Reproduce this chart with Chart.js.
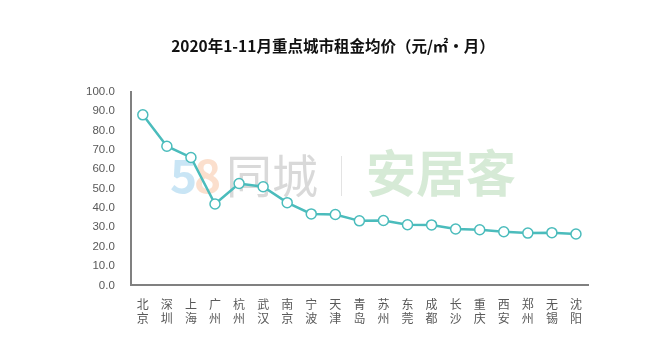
<!DOCTYPE html>
<html>
<head>
<meta charset="utf-8">
<script src="https://cdn.jsdelivr.net/npm/chart.js@4/dist/chart.umd.min.js"></script>
<style>
  html, body { margin: 0; padding: 0; background: #fff; }
  #myCanvas { display: block; }
</style>
</head>
<body>
<canvas id="myCanvas" width="664" height="354"></canvas>
<script>
// cities (two characters each, stacked)
const cities = ['北京', '深圳', '上海', '广州', '杭州', '武汉', '南京', '宁波', '天津', '青岛',
                '苏州', '东莞', '成都', '长沙', '重庆', '西安', '郑州', '无锡', '沈阳'];
// average rent, yuan per square metre per month
const rent = [88.0, 71.8, 66.0, 42.0, 52.6, 50.9, 42.7, 36.9, 36.6, 33.3,
              33.5, 31.3, 31.2, 29.1, 28.7, 27.7, 27.0, 27.2, 26.5];
const yTicks = [0, 10, 20, 30, 40, 50, 60, 70, 80, 90, 100];

const titleText = '2020年1-11月重点城市租金均价（元/㎡•月）';

// faint logo watermark behind the line
const watermark = {
    id: 'watermark',
    beforeDatasetsDraw(chart) {
        const c = chart.ctx;
        c.save();
        c.textBaseline = 'middle';
        c.font = 'bold 46px "Noto Sans CJK SC", sans-serif';
        c.fillStyle = 'rgba(120,190,230,0.4)';
        c.fillText('5', 170, 176);
        c.fillStyle = 'rgba(245,175,130,0.4)';
        c.fillText('8', 194, 176);
        c.font = '46px "Noto Sans CJK SC", sans-serif';
        c.fillStyle = 'rgba(170,170,170,0.45)';
        c.fillText('同城', 226, 176);
        c.fillStyle = 'rgba(200,200,200,0.5)';
        c.fillRect(341, 156, 1, 40);
        c.font = 'bold 50px "Noto Sans CJK SC", sans-serif';
        c.fillStyle = 'rgba(165,208,165,0.45)';
        c.fillText('安居客', 366, 173);
        c.restore();
    }
};

document.addEventListener('DOMContentLoaded', () => {
    const ctx = document.getElementById('myCanvas').getContext('2d');

    const data = {
        labels: cities.map(c => c.split('')),
        datasets: [{
            data: rent,
            borderColor: '#4bbcbc',
            borderWidth: 2.5,
            backgroundColor: '#ffffff',
            pointBackgroundColor: '#ffffff',
            pointBorderColor: '#4bbcbc',
            pointBorderWidth: 1.5,
            pointRadius: 5,
            tension: 0,
            fill: false
        }]
    };

    const config = {
        type: 'line',
        data: data,
        plugins: [watermark],
        options: {
            responsive: false,
            animation: false,
            layout: { padding: { left: 78, right: 76, top: 0, bottom: 25 } },
            plugins: {
                legend: { display: false },
                tooltip: { enabled: false },
                title: {
                    display: true,
                    text: titleText,
                    color: '#111111',
                    font: { family: '"Noto Sans CJK SC", sans-serif', size: 15.5, weight: 'bold' },
                    padding: { top: 37, bottom: 36 }
                }
            },
            scales: {
                x: {
                    offset: true,
                    grid: { display: false },
                    border: { display: true, color: '#808080', width: 2 },
                    ticks: {
                        color: '#595959',
                        maxRotation: 0,
                        autoSkip: false,
                        padding: 4,
                        font: { family: '"Noto Sans CJK SC", sans-serif', size: 12, lineHeight: 1.15 }
                    }
                },
                y: {
                    min: 0,
                    max: 100,
                    afterBuildTicks: axis => { axis.ticks = yTicks.map(v => ({ value: v })); },
                    grid: { display: false },
                    border: { display: true, color: '#808080', width: 2 },
                    ticks: {
                        color: '#595959',
                        padding: 8,
                        font: { family: '"Liberation Sans", sans-serif', size: 11.5 },
                        callback: v => v.toFixed(1)
                    }
                }
            }
        }
    };

    new Chart(ctx, config);
});
</script>
</body>
</html>
